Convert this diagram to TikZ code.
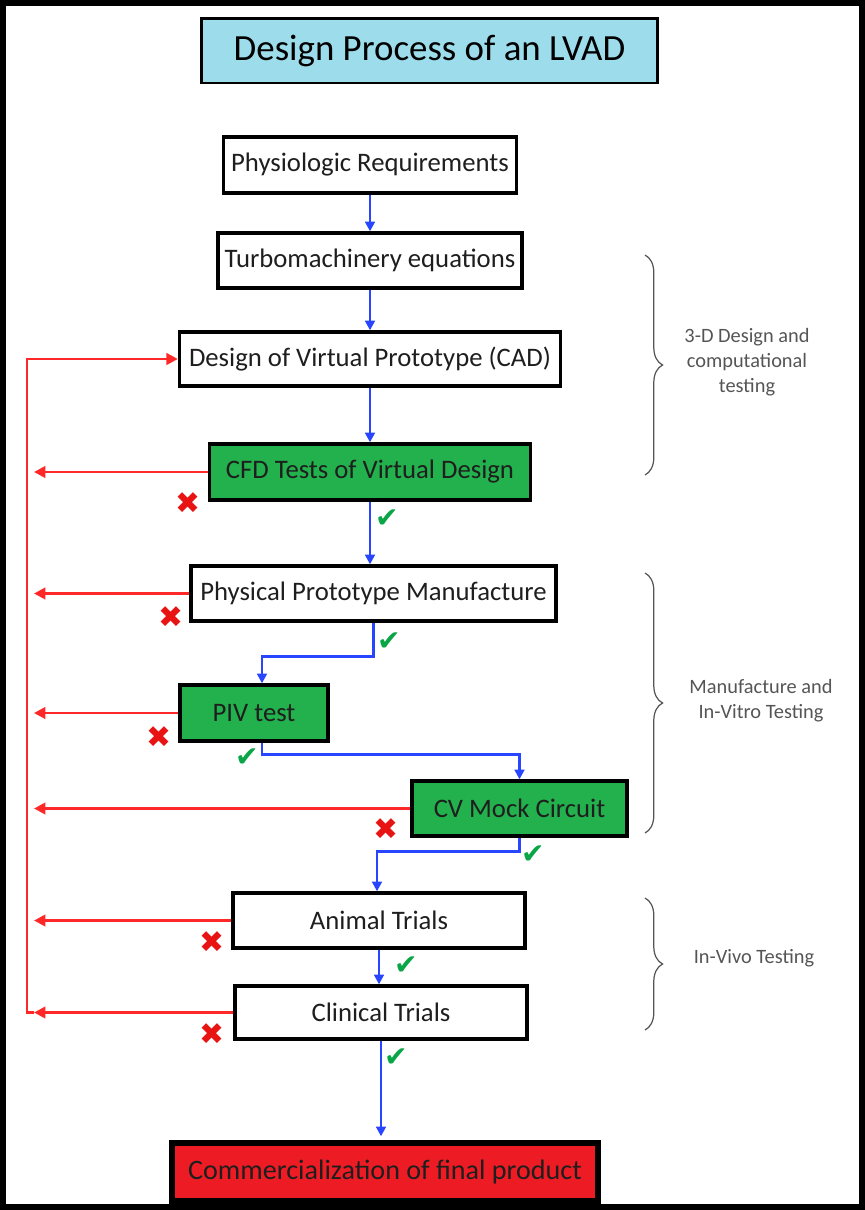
\documentclass[tikz,border=0pt]{standalone}
\usepackage{fontspec}
\setmainfont{Carlito}
\newfontfamily\symfont{DejaVu Sans}
\usetikzlibrary{arrows.meta,decorations.pathreplacing}
\definecolor{titleblue}{RGB}{157,220,235}
\definecolor{testgreen}{RGB}{34,177,76}
\definecolor{finalred}{RGB}{237,28,36}
\definecolor{flowblue}{RGB}{40,70,255}
\definecolor{failred}{RGB}{255,40,40}
\definecolor{okgreen}{RGB}{10,165,70}
\definecolor{nogored}{RGB}{232,20,20}
\definecolor{inkgray}{RGB}{30,30,30}
\definecolor{phasegray}{RGB}{85,85,85}
\tikzstyle{every node}=[text centered, inner sep=1pt]

\begin{document}
\begin{tikzpicture}[x=0.02cm, y=-0.02cm,
  stage/.style={draw, line width=1.9pt, text=inkgray, font=\fontsize{15.2}{18}\selectfont, minimum height=1.1cm},
  test/.style={stage, fill=testgreen},
  flow/.style={draw=flowblue, line width=1.4pt, -{Triangle[length=5.5pt,width=5.5pt]}},
  fail/.style={draw=failred, line width=1.6pt, -{Triangle[length=6.5pt,width=6.5pt]}},
  nogo/.style={text=nogored, font=\symfont\fontsize{17}{17}\selectfont},
  go/.style={text=okgreen, font=\symfont\fontsize{16}{16}\selectfont},
  brace/.style={draw=phasegray, line width=0.7pt, decorate, decoration={brace, amplitude=10pt}},
  phase/.style={align=center, text=phasegray, font=\fontsize{11.6}{14.2}\selectfont}]
  \useasboundingbox (0,0) rectangle (865,1210);
  \draw[line width=3.4pt] (3,3) rectangle (862,1207);

  \node[draw, line width=1.7pt, fill=titleblue, minimum width=9.14cm, minimum height=1.3cm, font=\fontsize{21}{25}\selectfont] (title) at (429.5,50.5) {Design Process of an LVAD};

  \node[stage, minimum width=5.86cm, minimum height=1.12cm] (phys) at (370,165) {Physiologic Requirements};
  \node[stage, minimum width=6.08cm] (turbo) at (370,260.5) {Turbomachinery equations};
  \node[stage, minimum width=7.62cm, minimum height=1.08cm] (cad) at (370,359) {Design of Virtual Prototype (CAD)};
  \node[test, minimum width=6.42cm, minimum height=1.12cm] (cfd) at (370,472) {CFD Tests of Virtual Design};
  \node[stage, minimum width=7.3cm] (ppm) at (373.5,593.5) {Physical Prototype Manufacture};
  \node[test, minimum width=2.96cm, minimum height=1.12cm] (piv) at (254,713) {PIV test};
  \node[test, minimum width=4.3cm] (cv) at (519.5,808.5) {CV Mock Circuit};
  \node[stage, minimum width=5.84cm] (animal) at (379,920.5) {Animal Trials};
  \node[stage, minimum width=5.84cm, minimum height=1.06cm] (clinical) at (381,1012.5) {Clinical Trials};
  \node[stage, line width=3.6pt, fill=finalred, minimum width=8.52cm, minimum height=1.16cm, font=\fontsize{16}{19}\selectfont] (comm) at (385,1172) {Commercialization of final product};

  \draw[flow] (phys) -- (turbo);
  \draw[flow] (turbo) -- (cad);
  \draw[flow] (cad) -- (cfd);
  \draw[flow] (cfd.south) -- (cfd.south |- ppm.north);
  \draw[flow] (ppm.south) -- ++(0,34) -| ([xshift=0.16cm]piv.north);
  \draw[flow] ([xshift=0.16cm]piv.south) -- ++(0,12) -| (cv.north);
  \draw[flow] (cv.south) -- ++(0,14) -| ([xshift=-0.04cm]animal.north);
  \draw[flow] (animal.south) -- (animal.south |- clinical.north);
  \draw[flow, shorten >=2pt] (clinical.south) -- (clinical.south |- comm.north);

  \coordinate (rail) at (27,0);
  \coordinate (railtip) at (34,0);
  \draw[fail] (railtip |- clinical.west) -- (rail |- clinical.west) |- (cad.west);
  \draw[fail] (cfd.west) -- (cfd.west -| railtip);
  \draw[fail] (ppm.west) -- (ppm.west -| railtip);
  \draw[fail] (piv.west) -- (piv.west -| railtip);
  \draw[fail] (cv.west) -- (cv.west -| railtip);
  \draw[fail] (animal.west) -- (animal.west -| railtip);
  \draw[fail] (clinical.west) -- (clinical.west -| railtip);

  \node[nogo] (nocfd) at (188,503) {✖};
  \node[nogo] (noppm) at (171,617) {✖};
  \node[nogo] (nopiv) at (159,737) {✖};
  \node[nogo] (nocv) at (386,829) {✖};
  \node[nogo] (noanimal) at (212,942) {✖};
  \node[nogo] (noclinical) at (212,1034) {✖};

  \node[go] (okcfd) at (387,519) {✔};
  \node[go] (okppm) at (389,642) {✔};
  \node[go] (okpiv) at (247,758) {✔};
  \node[go] (okcv) at (533,855) {✔};
  \node[go] (okanimal) at (406,966) {✔};
  \node[go] (okclinical) at (396,1058) {✔};

  \draw[brace] (645,255) -- (645,475);
  \draw[brace] (645,573) -- (645,833);
  \draw[brace] (645,898) -- (645,1030);
  \node[phase] (phdesign) at (747,362) {3-D Design and\\computational\\testing};
  \node[phase] (phvitro) at (761,701) {Manufacture and\\In-Vitro Testing};
  \node[phase] (phvivo) at (754,958) {In-Vivo Testing};
\end{tikzpicture}
\end{document}
